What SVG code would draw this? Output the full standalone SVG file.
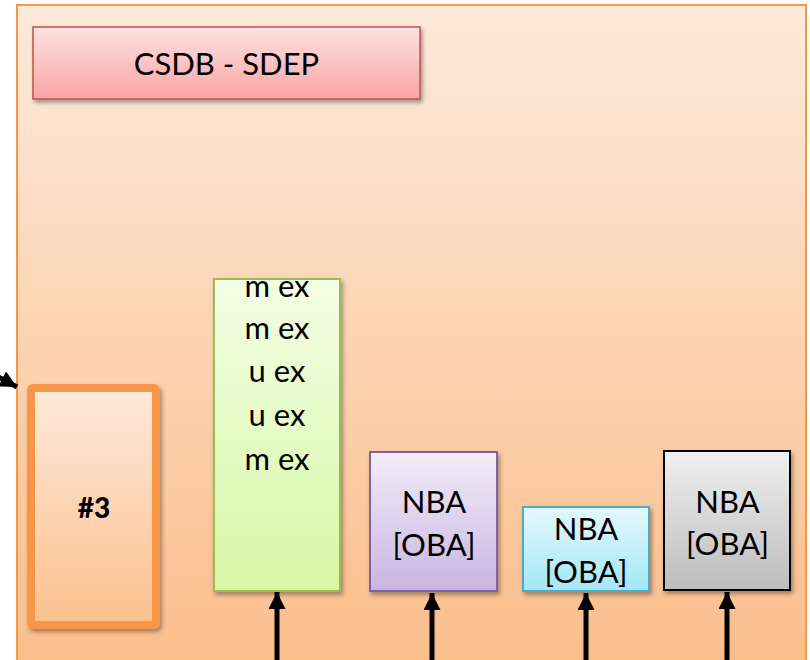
<svg xmlns="http://www.w3.org/2000/svg" width="810" height="660" viewBox="0 0 810 660">
  <defs>
    <linearGradient id="gPanel" gradientUnits="userSpaceOnUse" x1="0" y1="5" x2="0" y2="660">
      <stop offset="0" stop-color="#fdeadb"/>
      <stop offset="1" stop-color="#fbbe8b"/>
    </linearGradient>
    <linearGradient id="gOrange" x1="0" y1="0" x2="0" y2="1">
      <stop offset="0" stop-color="#fee9da"/>
      <stop offset="1" stop-color="#fbc08d"/>
    </linearGradient>
    <linearGradient id="gRed" x1="0" y1="0" x2="0" y2="1">
      <stop offset="0" stop-color="#fee2e2"/>
      <stop offset="1" stop-color="#f9a4a4"/>
    </linearGradient>
    <linearGradient id="gGreen" x1="0" y1="0" x2="0" y2="1">
      <stop offset="0" stop-color="#f4fee5"/>
      <stop offset="1" stop-color="#d6f7a5"/>
    </linearGradient>
    <linearGradient id="gPurple" x1="0" y1="0" x2="0" y2="1">
      <stop offset="0" stop-color="#f2edf8"/>
      <stop offset="1" stop-color="#c9b5e2"/>
    </linearGradient>
    <linearGradient id="gCyan" x1="0" y1="0" x2="0" y2="1">
      <stop offset="0" stop-color="#e5f8fe"/>
      <stop offset="1" stop-color="#a3e6f8"/>
    </linearGradient>
    <linearGradient id="gGray" x1="0" y1="0" x2="0" y2="1">
      <stop offset="0" stop-color="#f0f0f0"/>
      <stop offset="1" stop-color="#bcbcbc"/>
    </linearGradient>
    <filter id="shadow" x="-20%" y="-20%" width="140%" height="140%">
      <feDropShadow dx="2" dy="3" stdDeviation="2" flood-color="#000" flood-opacity="0.35"/>
    </filter>
    <marker id="arrow" viewBox="0 0 10 10" refX="10" refY="5" markerWidth="3.4" markerHeight="3.4" markerUnits="strokeWidth" orient="auto">
      <path d="M0,0 L10,5 L0,10 Z" fill="#000"/>
    </marker>
  </defs>
  <style>
    .lbl { font-family: Lato, "Open Sans", "Liberation Sans", sans-serif; font-size: 31px; fill: #000; text-anchor: middle; }
    .bold { font-family: Lato, "Liberation Sans", Arial, sans-serif; font-weight: 900; font-size: 28px; fill: #000; text-anchor: middle; }
    .box { filter: url(#shadow); }
    .conn { stroke: #000; stroke-width: 5; fill: none; marker-end: url(#arrow); }
  </style>

  <!-- outer panel -->
  <g id="panel">
    <rect x="17" y="5" width="789" height="690" fill="url(#gPanel)" stroke="#f79646" stroke-width="2"/>
  </g>

  <g id="csdb-sdep">
    <rect class="box" x="33" y="27" width="387" height="72" fill="url(#gRed)" stroke="#c0504d" stroke-width="1.5"/>
    <text class="lbl" x="226.5" y="75">CSDB - SDEP</text>
  </g>

  <g id="node-3">
    <rect class="box" x="31" y="388" width="125" height="237" rx="2" fill="url(#gOrange)" stroke="#f79646" stroke-width="8"/>
    <text class="bold" x="94" y="518">#3</text>
  </g>

  <g id="node-ex">
    <rect class="box" x="214" y="279" width="126" height="312" fill="url(#gGreen)" stroke="#9bbb59" stroke-width="2"/>
    <text class="lbl" x="277" y="297">m ex</text>
    <text class="lbl" x="277" y="339">m ex</text>
    <text class="lbl" x="277" y="382">u ex</text>
    <text class="lbl" x="277" y="426">u ex</text>
    <text class="lbl" x="277" y="470">m ex</text>
  </g>

  <g id="node-nba-purple">
    <rect class="box" x="370" y="452" width="127" height="139" fill="url(#gPurple)" stroke="#8064a2" stroke-width="2"/>
    <text class="lbl" x="434" y="513">NBA</text>
    <text class="lbl" x="434" y="556">[OBA]</text>
  </g>

  <g id="node-nba-cyan">
    <rect class="box" x="523" y="507" width="126" height="84" fill="url(#gCyan)" stroke="#4bacc6" stroke-width="2"/>
    <text class="lbl" x="586" y="540">NBA</text>
    <text class="lbl" x="586" y="583">[OBA]</text>
  </g>

  <g id="node-nba-gray">
    <rect class="box" x="664" y="451" width="126" height="139" fill="url(#gGray)" stroke="#000" stroke-width="2"/>
    <text class="lbl" x="727.5" y="513">NBA</text>
    <text class="lbl" x="727.5" y="555">[OBA]</text>
  </g>

  <!-- connectors -->
  <g id="connectors">
    <line class="conn" x1="-20" y1="367" x2="17" y2="387"/>
    <line class="conn" x1="277" y1="670" x2="277" y2="592"/>
    <line class="conn" x1="432" y1="670" x2="432" y2="593"/>
    <line class="conn" x1="586" y1="670" x2="586" y2="593"/>
    <line class="conn" x1="727" y1="670" x2="727" y2="592"/>
  </g>
</svg>
